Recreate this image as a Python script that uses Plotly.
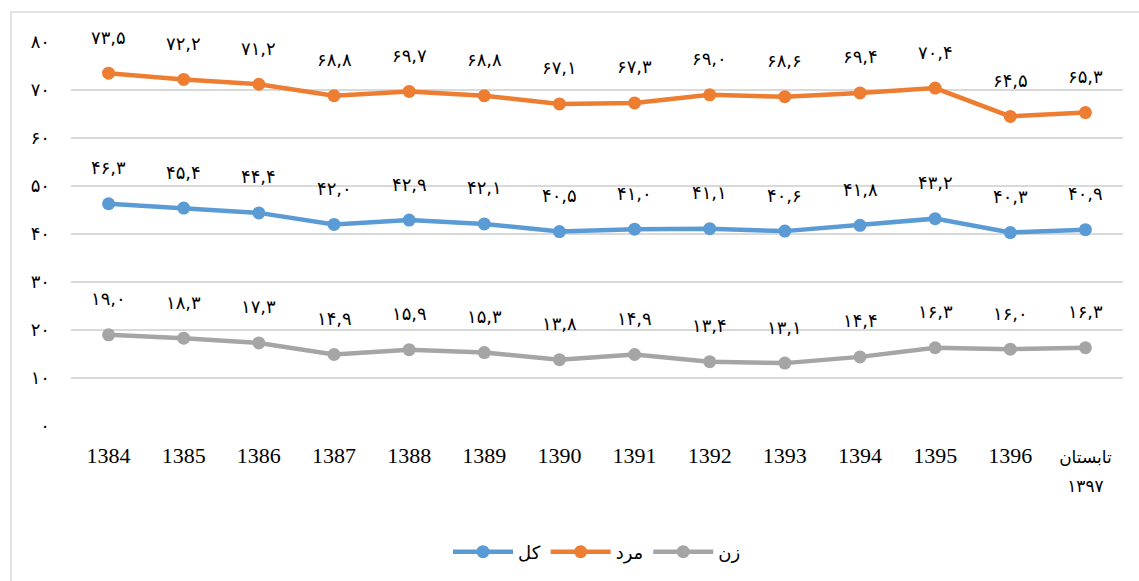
import plotly.graph_objects as go

categories = ["1384", "1385", "1386", "1387", "1388", "1389", "1390",
              "1391", "1392", "1393", "1394", "1395", "1396", "تابستان<br>۱۳۹۷"]
total = [46.3, 45.4, 44.4, 42.0, 42.9, 42.1, 40.5, 41.0, 41.1, 40.6, 41.8, 43.2, 40.3, 40.9]
male = [73.5, 72.2, 71.2, 68.8, 69.7, 68.8, 67.1, 67.3, 69.0, 68.6, 69.4, 70.4, 64.5, 65.3]
female = [19.0, 18.3, 17.3, 14.9, 15.9, 15.3, 13.8, 14.9, 13.4, 13.1, 14.4, 16.3, 16.0, 16.3]
y_ticks = [0, 10, 20, 30, 40, 50, 60, 70, 80]

series = [("کل", total, "#5B9BD5"), ("مرد", male, "#ED7D31"), ("زن", female, "#A5A5A5")]

FA = str.maketrans("0123456789.", "۰۱۲۳۴۵۶۷۸۹,")


def fa(v, dec=True):
    s = f"{v:.1f}" if dec else f"{v:d}"
    return s.translate(FA)


W, H = 1139, 581
L, R, T, B = 71, 16, 42, 155
pw, ph = W - L - R, H - T - B

xs = list(range(len(categories)))
tick_text = [c if i < len(categories) - 1 else
             "<span style='font-family:DejaVu Sans;font-size:17px'>" + c + "</span>"
             for i, c in enumerate(categories)]

fig = go.Figure()
annotations = []
for name, vals, col in series:
    fig.add_trace(go.Scatter(
        x=xs, y=vals, name=name, mode="lines+markers",
        line=dict(color=col, width=4.5),
        marker=dict(color=col, size=13),
        hoverinfo="skip",
    ))
    for i, v in zip(xs, vals):
        annotations.append(dict(
            x=i, y=v, xref="x", yref="y", text=fa(v), showarrow=False,
            yshift=36, font=dict(size=18, color="#000000",
                                 family="DejaVu Sans, Liberation Serif")))


def px_x(x):
    return (x - L) / pw


def px_y(y):
    return 1 - (y - T) / ph


fig.add_shape(type="rect", xref="paper", yref="paper",
              x0=px_x(11), x1=px_x(1150), y0=px_y(595), y1=px_y(12),
              line=dict(color="#D9D9D9", width=1.5), fillcolor="rgba(0,0,0,0)", layer="below")

fig.update_layout(
    width=W, height=H,
    margin=dict(l=L, r=R, t=T, b=B, autoexpand=False),
    paper_bgcolor="white", plot_bgcolor="white",
    showlegend=True,
    legend=dict(orientation="h", x=0.5, xanchor="center", y=px_y(552), yanchor="middle",
                font=dict(size=18, family="DejaVu Sans", color="#000"),
                itemwidth=60, tracegroupgap=0),
    annotations=annotations,
    xaxis=dict(showgrid=False, zeroline=False, showline=False,
               tickvals=xs, ticktext=tick_text,
               ticks="", ticklabelstandoff=14,
               tickfont=dict(size=22, family="Liberation Serif, DejaVu Sans", color="#000"),
               range=[-0.5, len(categories) - 0.5], fixedrange=True),
    yaxis=dict(range=[0, 80], tickvals=y_ticks, ticktext=[fa(t, dec=False) for t in y_ticks],
               showgrid=True, gridcolor="#D9D9D9", gridwidth=1.5, zeroline=False,
               showline=False, ticks="", ticklabelstandoff=20,
               tickfont=dict(size=18, family="DejaVu Sans", color="#000"), fixedrange=True),
)

fig.write_html("out.html", config={"displayModeBar": False},
               post_script="document.body.style.margin='0';document.body.style.overflow='hidden';")
